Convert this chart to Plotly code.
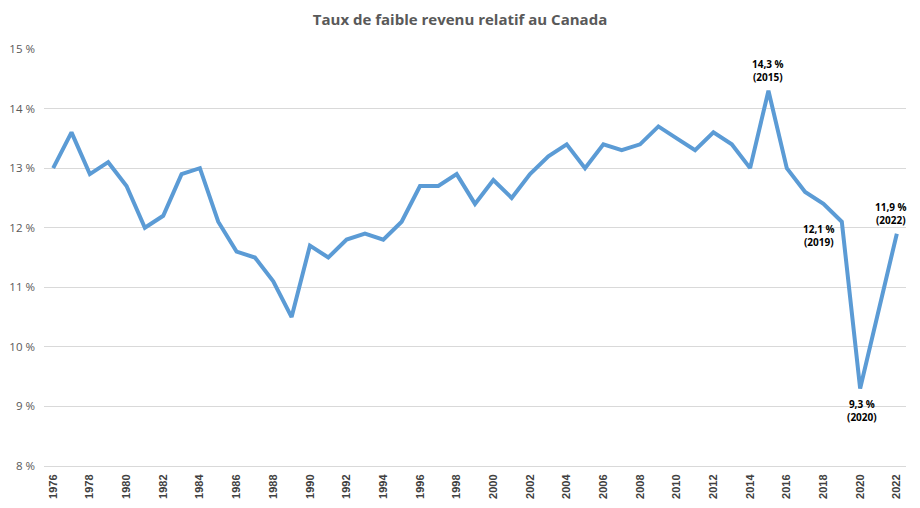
import plotly.graph_objects as go

years = list(range(1976, 2023))
rates = [13.0, 13.6, 12.9, 13.1, 12.7, 12.0, 12.2, 12.9, 13.0, 12.1,
         11.6, 11.5, 11.1, 10.5, 11.7, 11.5, 11.8, 11.9, 11.8, 12.1,
         12.7, 12.7, 12.9, 12.4, 12.8, 12.5, 12.9, 13.2, 13.4, 13.0,
         13.4, 13.3, 13.4, 13.7, 13.5, 13.3, 13.6, 13.4, 13.0, 14.3,
         13.0, 12.6, 12.4, 12.1, 9.3, 10.6, 11.9]
y_ticks = [8, 9, 10, 11, 12, 13, 14, 15]
y_tick_labels = ["8 %", "9 %", "10 %", "11 %", "12 %", "13 %", "14 %", "15 %"]
x_ticks = list(range(1976, 2023, 2))

labelled_years = [2015, 2019, 2020, 2022]
label_texts = ["14,3 %<br>(2015)", "12,1 %<br>(2019)", "9,3 %<br>(2020)", "11,9 %<br>(2022)"]

fig = go.Figure()
fig.add_trace(go.Scatter(x=years, y=rates, mode="lines",
                         line=dict(color="#5B9BD5", width=4),
                         hoverinfo="x+y", cliponaxis=False))

placement = {
    2015: dict(xanchor="center", yanchor="bottom", xshift=0, yshift=5),
    2019: dict(xanchor="right", yanchor="top", xshift=-5, yshift=2),
    2020: dict(xanchor="center", yanchor="top", xshift=2, yshift=-6),
    2022: dict(xanchor="center", yanchor="bottom", xshift=-6, yshift=5),
}
for yr, txt in zip(labelled_years, label_texts):
    v = rates[years.index(yr)]
    p = placement[yr]
    fig.add_annotation(x=yr, y=v, text=f"<b>{txt.replace('<br>', '</b><br><b>')}</b>",
                       showarrow=False,
                       font=dict(family="Open Sans, Liberation Sans", size=10, color="#000000"),
                       align="center", **p)

fig.update_layout(
    width=920, height=508,
    paper_bgcolor="white", plot_bgcolor="white",
    margin=dict(l=44, r=14, t=49, b=42),
    showlegend=False,
    title=dict(text="<b>Taux de faible revenu relatif au Canada</b>",
               x=0.5, xanchor="center", y=0.962, yanchor="middle",
               font=dict(family="Open Sans, Liberation Sans", size=15, color="#595959")),
    xaxis=dict(range=[1975.5, 2022.5], tickvals=x_ticks,
               ticktext=[f"<b>{t}</b>" for t in x_ticks],
               tickangle=-90, showgrid=False, zeroline=False,
               showline=True, linecolor="#D9D9D9", linewidth=1,
               ticks="", ticklabelstandoff=3, automargin=False,
               tickfont=dict(family="Liberation Sans Narrow, Liberation Sans", size=11, color="#404040"),
               fixedrange=True),
    yaxis=dict(range=[8, 15], tickvals=y_ticks, ticktext=y_tick_labels,
               showgrid=True, gridcolor="#D9D9D9", gridwidth=1,
               zeroline=False, showline=False, ticks="",
               ticklabelstandoff=8, automargin=False,
               tickfont=dict(family="Open Sans, Liberation Sans", size=11.5, color="#595959"),
               fixedrange=True),
)

fig.write_html("out.html", config={"displayModeBar": False},
               post_script="document.body.style.margin='0';document.body.style.overflow='hidden';")
